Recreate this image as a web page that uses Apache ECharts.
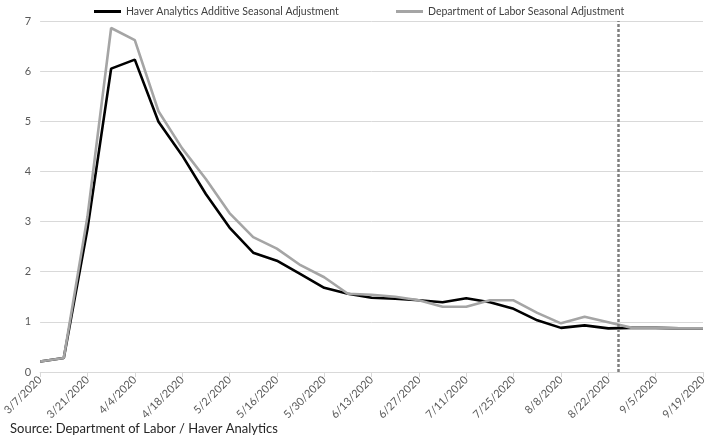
<!DOCTYPE html>
<html>
<head>
<meta charset="utf-8">
<script src="https://cdn.jsdelivr.net/npm/echarts@6/dist/echarts.min.js"></script>
<style>
  html, body { margin: 0; padding: 0; background: #fff; }
  #chart { width: 709px; height: 439px; }
</style>
</head>
<body>
<div id="chart"></div>
<script>
const weeks = [
  '3/7/2020', '3/14/2020', '3/21/2020', '3/28/2020', '4/4/2020', '4/11/2020',
  '4/18/2020', '4/25/2020', '5/2/2020', '5/9/2020', '5/16/2020', '5/23/2020',
  '5/30/2020', '6/6/2020', '6/13/2020', '6/20/2020', '6/27/2020', '7/4/2020',
  '7/11/2020', '7/18/2020', '7/25/2020', '8/1/2020', '8/8/2020', '8/15/2020',
  '8/22/2020', '8/29/2020', '9/5/2020', '9/12/2020', '9/19/2020'
]

const haverSA = [
  0.21, 0.28, 2.85, 6.05, 6.23, 4.99, 4.32, 3.55, 2.88, 2.38, 2.22, 1.95,
  1.68, 1.56, 1.48, 1.46, 1.43, 1.39, 1.47, 1.39, 1.26, 1.03, 0.88, 0.93,
  0.87, 0.88, 0.88, 0.87, 0.87
]

const dolSA = [
  0.21, 0.28, 3.1, 6.86, 6.62, 5.2, 4.46, 3.85, 3.17, 2.69, 2.46, 2.13,
  1.89, 1.56, 1.54, 1.5, 1.43, 1.3, 1.3, 1.43, 1.43, 1.18, 0.97, 1.1,
  0.99, 0.88, 0.88, 0.87, 0.87
]

// dotted marker sits between 8/22 and 8/29
const markerPos = 24.4

const seriesNames = [
  'Haver Analytics Additive Seasonal Adjustment',
  'Department of Labor Seasonal Adjustment'
]

const font = 'Lato, "Open Sans", sans-serif'

const chart = echarts.init(document.getElementById('chart'), null, { renderer: 'canvas' })

const legendBase = {
  top: 1,
  icon: 'rect',
  itemWidth: 27,
  itemHeight: 3,
  textStyle: { fontFamily: font, fontSize: 10.5, color: '#404040' }
}

chart.setOption({
  animation: false,
  backgroundColor: '#fff',
  textStyle: { fontFamily: font },
  legend: [
    { ...legendBase, left: 89, data: [seriesNames[0]] },
    { ...legendBase, left: 391, data: [seriesNames[1]] }
  ],
  grid: { left: 30, right: 4, top: 21, bottom: 67, containLabel: false },
  xAxis: [
    {
      type: 'category',
      data: weeks,
      boundaryGap: false,
      axisLine: { lineStyle: { color: '#d9d9d9', width: 1 } },
      axisTick: { show: true, interval: 1, length: 5, lineStyle: { color: '#d9d9d9' } },
      axisLabel: {
        interval: 1,
        rotate: 45,
        fontSize: 11,
        color: '#595959',
        fontFamily: font,
        margin: 6
      },
      splitLine: { show: false }
    },
    {
      type: 'value',
      min: 0,
      max: weeks.length - 1,
      show: false
    }
  ],
  yAxis: {
    type: 'value',
    min: 0,
    max: 7,
    interval: 1,
    axisLine: { show: false },
    axisTick: { show: false },
    axisLabel: { fontSize: 11, color: '#595959', fontFamily: font, margin: 9 },
    splitLine: { lineStyle: { color: '#d9d9d9', width: 1 } }
  },
  series: [
    {
      name: seriesNames[0],
      type: 'line',
      data: haverSA,
      symbol: 'none',
      lineStyle: { color: '#000', width: 2.6 },
      itemStyle: { color: '#000' }
    },
    {
      name: seriesNames[1],
      type: 'line',
      data: dolSA,
      symbol: 'none',
      lineStyle: { color: '#a5a5a5', width: 2.6 },
      itemStyle: { color: '#a5a5a5' }
    },
    {
      name: 'marker',
      type: 'line',
      xAxisIndex: 1,
      data: [],
      markLine: {
        silent: true,
        symbol: 'none',
        label: { show: false },
        lineStyle: { color: '#7f7f7f', width: 2.5, type: [3, 2] },
        data: [{ xAxis: markerPos }]
      }
    }
  ],
  graphic: [
    {
      type: 'text',
      left: 10,
      top: 422,
      style: {
        text: 'Source: Department of Labor / Haver Analytics',
        fontFamily: font,
        fontSize: 13,
        fill: '#262626'
      }
    }
  ]
})
</script>
</body>
</html>
